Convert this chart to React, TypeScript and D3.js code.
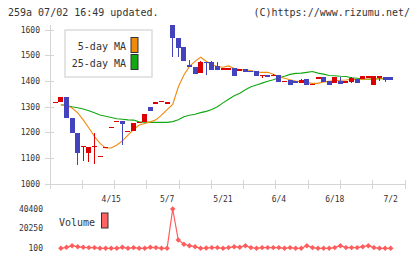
import React from 'react';
import * as d3 from 'd3';

// trading days shown on the chart (2024)
const dates = [
	'4/1', '4/2', '4/3', '4/4', '4/5', '4/8', '4/9', '4/10', '4/11', '4/12',
	'4/15', '4/16', '4/17', '4/18', '4/19', '4/22', '4/23', '4/25', '4/26', '5/1',
	'5/7', '5/8', '5/9', '5/10', '5/13', '5/14', '5/15', '5/16', '5/17', '5/20',
	'5/21', '5/22', '5/23', '5/24', '5/27', '5/28', '5/29', '5/30', '5/31', '6/3',
	'6/4', '6/5', '6/6', '6/7', '6/10', '6/11', '6/12', '6/13', '6/14', '6/17',
	'6/18', '6/19', '6/20', '6/21', '6/24', '6/25', '6/26', '6/27', '6/28', '7/1',
	'7/2',
];

const opens = [
	1320, 1320, 1340, 1258, 1200, 1148, 1120, 1148, 1109, 1146,
	1222, 1245, 1247, 1208, 1206, 1242, 1243, 1299, 1318, 1323,
	1318, 1620, 1570, 1533, 1464, 1456, 1434, 1475, 1475, 1460,
	1451, 1451, 1451, 1447, 1448, 1440, 1440, 1419, 1425, 1419,
	1425, 1401, 1405, 1400, 1395, 1409, 1389, 1416, 1416, 1401,
	1395, 1401, 1395, 1399, 1409, 1409, 1420, 1386, 1413, 1417,
	1415,
];
const highs = [
	1320, 1340, 1340, 1258, 1200, 1148, 1146, 1199, 1109, 1146,
	1222, 1245, 1247, 1208, 1238, 1242, 1273, 1299, 1318, 1323,
	1318, 1620, 1570, 1533, 1483, 1456, 1479, 1475, 1479, 1475,
	1451, 1451, 1451, 1447, 1448, 1440, 1440, 1424, 1425, 1428,
	1425, 1401, 1405, 1400, 1409, 1409, 1389, 1416, 1416, 1401,
	1416, 1416, 1403, 1416, 1409, 1419, 1420, 1419, 1421, 1417,
	1415,
];
const lows = [
	1320, 1320, 1258, 1200, 1074, 1090, 1086, 1078, 1109, 1146,
	1222, 1245, 1152, 1208, 1206, 1242, 1243, 1286, 1318, 1323,
	1318, 1496, 1496, 1481, 1454, 1430, 1434, 1425, 1444, 1444,
	1451, 1451, 1419, 1447, 1436, 1437, 1420, 1412, 1416, 1419,
	1399, 1401, 1386, 1396, 1395, 1386, 1389, 1416, 1399, 1386,
	1392, 1389, 1395, 1392, 1392, 1409, 1420, 1386, 1403, 1398,
	1405,
];
const closes = [
	1320, 1340, 1258, 1200, 1120, 1148, 1146, 1148, 1109, 1146,
	1222, 1245, 1234, 1208, 1238, 1242, 1273, 1286, 1318, 1323,
	1318, 1570, 1531, 1481, 1454, 1430, 1475, 1470, 1444, 1444,
	1451, 1451, 1419, 1447, 1436, 1437, 1420, 1424, 1416, 1425,
	1399, 1401, 1386, 1396, 1405, 1386, 1389, 1416, 1399, 1386,
	1416, 1389, 1403, 1413, 1392, 1419, 1420, 1419, 1421, 1405,
	1405,
];

// moving averages as drawn (first value has no line)
const ma5 = [
	null, 1309, 1307, 1296, 1277, 1250, 1218, 1185, 1158, 1140,
	1140, 1152, 1168, 1190, 1212, 1230, 1236, 1242, 1250, 1268,
	1290, 1310, 1378, 1425, 1458, 1478, 1494, 1478, 1465, 1458,
	1455, 1460, 1450, 1446, 1444, 1442, 1436, 1435, 1435, 1428,
	1418, 1412, 1406, 1401, 1398, 1395, 1392, 1392, 1398, 1400,
	1402, 1404, 1405, 1407, 1407, 1408, 1409, 1409, 1410, 1410,
	1410,
];
const ma25 = [
	null, 1309, 1306, 1301, 1297, 1292, 1285, 1278, 1269, 1264,
	1259, 1254, 1252, 1250, 1249, 1242, 1241, 1240, 1240, 1240,
	1240, 1243, 1250, 1262, 1268, 1272, 1278, 1283, 1290, 1301,
	1316, 1330, 1344, 1354, 1367, 1379, 1386, 1393, 1400, 1406,
	1414, 1420, 1427, 1431, 1432, 1435, 1438, 1432, 1428, 1423,
	1422, 1420, 1419, 1414, 1412, 1409, 1408, 1409, 1410, 1410,
	1410,
];

const volumes = [
	null, 100, 1100, 2800, 1800, 1100, 800, 800, 100, 100,
	100, 100, 1100, 100, 800, 100, 100, 1100, 800, 100,
	100, 40400, 8600, 4200, 2800, 1800, 100, 400, 800, 800,
	100, 800, 1800, 1100, 2800, 800, 100, 800, 800, 800,
	800, 100, 800, 100, 100, 2800, 800, 100, 100, 100,
	800, 2800, 800, 800, 800, 1800, 2800, 800, 100, 100,
	100,
];

const priceTicks = [1000, 1100, 1200, 1300, 1400, 1500, 1600];
const volumeTicks = [100, 20250, 40400];
const labelIdx = [10, 20, 30, 40, 50, 60];

const FONT = '"DejaVu Sans Mono", monospace';
const RED = '#dd0000';
const BLUE = '#4343bd';
const ORANGE = '#f08a0c';
const GREEN = '#12a812';
const VOL = '#ff5c5c';
const AXIS = '#d4d4d4';
const TEXT = '#333';

const App: React.FC = () => {
	const left = 50, right = 405;
	const x = d3.scaleLinear().domain([-0.95, 62.56]).range([left, right]);
	const y = d3.scaleLinear().domain([1000, 1600]).range([184, 30]);
	const yv = d3.scaleLinear().domain([100, 40400]).range([248.3, 209]);

	const maLine = d3.line<number | null>()
		.defined(d => d != null)
		.x((_, i) => x(i))
		.y(d => y(d as number));
	const volLine = d3.line<number | null>()
		.defined(d => d != null)
		.x((_, i) => x(i))
		.y(d => yv(d as number));
	const diamond = d3.symbol().type(d3.symbolSquare).size(15)();

	const gridTicks = d3.range(12).map(k => left + k * (right - left) / 11);
	const bw = 5;

	return (
		<svg width={420} height={259} style={{ position: 'absolute', left: 0, top: 0, background: '#fff' }}
			fontFamily={FONT}>
			<text x={8} y={15.5} fontSize={10} fill={TEXT}>259a 07/02 16:49 updated.</text>
			<text x={410} y={15.5} fontSize={10} fill={TEXT} textAnchor="end">(C)https://www.rizumu.net/</text>

			{/* axes */}
			<g shapeRendering="crispEdges" stroke={AXIS}>
				<line x1={left} x2={left} y1={25} y2={189} />
				<line x1={left} x2={right} y1={184} y2={184} />
				{priceTicks.map(t => <line key={t} x1={45} x2={54} y1={y(t)} y2={y(t)} />)}
				{gridTicks.map((t, k) => <line key={k} x1={t} x2={t} y1={180} y2={189} />)}
			</g>
			{priceTicks.map(t => (
				<text key={t} x={40} y={y(t)} dy="0.35em" fontSize={8} fill={TEXT} textAnchor="end">{t}</text>
			))}
			{labelIdx.map(i => (
				<text key={i} x={x(i)} y={202} fontSize={8} fill={TEXT} textAnchor="middle">{dates[i]}</text>
			))}

			{/* moving averages */}
			<path d={maLine(ma25) || ''} fill="none" stroke={GREEN} strokeWidth={1.1} />
			<path d={maLine(ma5) || ''} fill="none" stroke={ORANGE} strokeWidth={1.1} />

			{/* candles */}
			<g shapeRendering="crispEdges">
				{dates.map((_, i) => {
					const up = closes[i] >= opens[i];
					const c = up ? RED : BLUE;
					const top = y(Math.max(opens[i], closes[i]));
					const bot = y(Math.min(opens[i], closes[i]));
					return (
						<g key={i}>
							<line x1={x(i)} x2={x(i)} y1={y(highs[i])} y2={y(lows[i])} stroke={c} strokeWidth={1} />
							<rect x={x(i) - bw / 2} y={top} width={bw} height={Math.max(1.3, bot - top)} fill={c} />
						</g>
					);
				})}
			</g>

			{/* legend */}
			<rect x={65} y={30} width={87} height={47} fill="#fff" stroke="#dcdcdc" strokeWidth={1.5} />
			<text x={126} y={49.5} fontSize={10} fill={TEXT} textAnchor="end">5-day MA</text>
			<text x={126} y={66.5} fontSize={10} fill={TEXT} textAnchor="end">25-day MA</text>
			<rect x={131} y={37.5} width={7} height={15} fill={ORANGE} stroke="#333" />
			<rect x={131} y={54.5} width={7} height={15} fill={GREEN} stroke="#333" />

			{/* volume */}
			{volumeTicks.map(t => (
				<text key={t} x={43} y={yv(t)} dy="0.35em" fontSize={8} fill={TEXT} textAnchor="end">{t}</text>
			))}
			<path d={volLine(volumes) || ''} fill="none" stroke={VOL} strokeWidth={1.2} />
			{volumes.map((v, i) => v == null ? null : (
				<path key={i} d={diamond || ''} fill={VOL}
					transform={`translate(${x(i)},${yv(v)}) rotate(45)`} />
			))}
			<text x={59} y={226} fontSize={10} fill={TEXT}>Volume</text>
			<rect x={101.5} y={213} width={6.5} height={15} fill="#ff6464" stroke="#333" />
		</svg>
	);
};

export default App;
